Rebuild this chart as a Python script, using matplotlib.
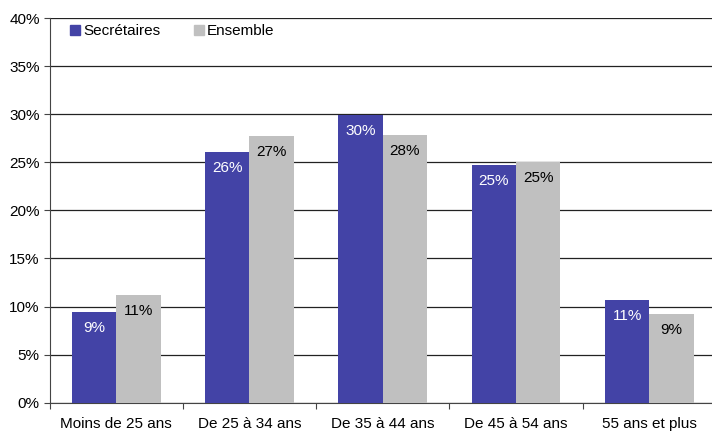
import numpy as np
import matplotlib.pyplot as plt
from matplotlib.patches import Patch

categories = ['Moins de 25 ans', 'De 25 à 34 ans', 'De 35 à 44 ans',
              'De 45 à 54 ans', '55 ans et plus']
secretaires = [9.45, 26.1, 29.9, 24.7, 10.7]
ensemble = [11.2, 27.7, 27.8, 25.0, 9.2]
# labels as printed on the chart
secretaires_lbl = [9, 26, 30, 25, 11]
ensemble_lbl = [11, 27, 28, 25, 9]
series_names = ['Secrétaires', 'Ensemble']
yticks = [0, 5, 10, 15, 20, 25, 30, 35, 40]

plt.rcParams['font.family'] = ['Liberation Sans', 'DejaVu Sans']
blue = '#4343A6'
grey = '#C0C0C0'
fs = 11

fig = plt.figure(figsize=(7.12, 4.32), dpi=100)
ax = fig.add_axes([49.5 / 712, (432 - 402.7) / 432, 666.5 / 712, 384.7 / 432])

x = np.arange(len(categories))
w = 1 / 3
b1 = ax.bar(x - w / 2, secretaires, w, color=blue, zorder=3)
b2 = ax.bar(x + w / 2, ensemble, w, color=grey, zorder=3)

for bars, vals, lbls, col in [(b1, secretaires, secretaires_lbl, 'white'),
                              (b2, ensemble, ensemble_lbl, 'black')]:
    for r, v, l in zip(bars, vals, lbls):
        ax.annotate('%d%%' % l, (r.get_x() + r.get_width() / 2, v),
                    xytext=(0, -16), textcoords='offset pixels',
                    ha='center', va='center', color=col, fontsize=fs, zorder=4)

ax.set_xlim(-0.5, len(categories) - 0.5)
ax.set_ylim(0, 40)
ax.set_yticks(yticks)
ax.set_yticklabels(['%d%%' % t for t in yticks], fontsize=fs)
ax.yaxis.grid(True, color='#222222', linewidth=0.9, zorder=0)
ax.set_xticks(np.arange(-0.5, len(categories) + 0.5, 1))
ax.set_xticklabels([])
ax.set_xticks(x, minor=True)
ax.set_xticklabels(categories, minor=True, fontsize=fs)
ax.tick_params(axis='x', which='minor', length=0, pad=10)
ax.tick_params(axis='x', which='major', length=4, color='#444444')
ax.tick_params(axis='y', length=4, color='#444444', pad=3)
for s in ['top', 'right']:
    ax.spines[s].set_visible(False)
ax.spines['left'].set_color('#444444')
ax.spines['bottom'].set_color('#444444')

handles = [Patch(color=blue), Patch(color=grey)]
ax.legend(handles, series_names, loc='upper left', bbox_to_anchor=(0.031, 0.984),
          borderaxespad=0, borderpad=0,
          ncol=2, frameon=False, fontsize=fs, handlelength=0.65, handleheight=0.65,
          handletextpad=0.2, columnspacing=2.2)

fig.savefig('out.png', dpi=100)
